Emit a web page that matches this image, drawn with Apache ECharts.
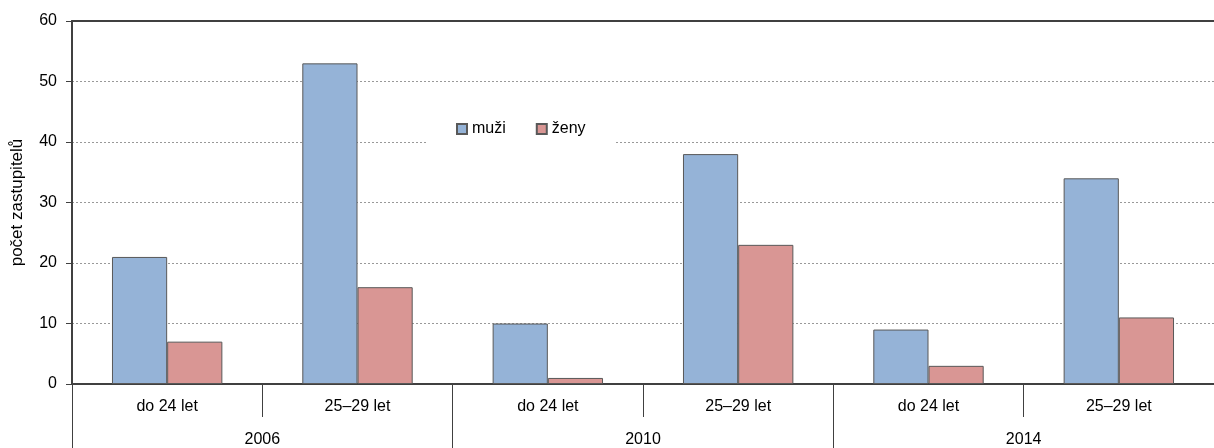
<!DOCTYPE html>
<html>
<head>
<meta charset="utf-8">
<script src="https://cdn.jsdelivr.net/npm/echarts@6/dist/echarts.min.js"></script>
<style>
  html, body { margin: 0; padding: 0; background: #fff; }
  #chart { width: 1214px; height: 448px; }
</style>
</head>
<body>
<div id="chart"></div>
<script>
// kategorie věku a roky voleb
var ageGroups = ['do 24 let', '25–29 let', 'do 24 let', '25–29 let', 'do 24 let', '25–29 let'];
var years = ['2006', '2010', '2014'];
// počty zastupitelů
var muzi = [21, 53, 10, 38, 9, 34];
var zeny = [7, 16, 1, 23, 3, 11];
var yTicks = { min: 0, max: 60, step: 10 };

var axisColor = '#404040';
var font = 'Liberation Sans, Arial, sans-serif';

var chart = echarts.init(document.getElementById('chart'));
chart.setOption({
  animation: false,
  textStyle: { fontFamily: font },
  grid: { left: 72, right: 0, top: 21, bottom: 62, containLabel: false },
  legend: {
    left: 426,
    top: 111,
    padding: [10, 30, 10, 30],
    backgroundColor: '#fff',
    icon: 'rect',
    itemWidth: 10,
    itemHeight: 10,
    itemGap: 30,
    textStyle: { fontSize: 16, color: '#000', fontFamily: font },
    data: ['muži', 'ženy']
  },
  xAxis: [
    {
      type: 'category',
      data: ageGroups,
      position: 'bottom',
      axisLine: { show: true, lineStyle: { color: axisColor, width: 2 } },
      axisTick: { show: true, interval: 0, length: 33, lineStyle: { color: axisColor, width: 1 } },
      axisLabel: { interval: 0, margin: 15, fontSize: 16, color: '#000', fontFamily: font },
      splitLine: { show: false }
    },
    {
      type: 'category',
      data: years,
      position: 'bottom',
      axisLine: { show: false },
      axisTick: { show: true, interval: 0, length: 64, lineStyle: { color: axisColor, width: 1 } },
      axisLabel: { interval: 0, margin: 48, fontSize: 16, color: '#000', fontFamily: font },
      splitLine: { show: false }
    },
    {
      type: 'category',
      data: ageGroups,
      position: 'top',
      axisLine: { show: true, lineStyle: { color: axisColor, width: 2 } },
      axisTick: { show: false },
      axisLabel: { show: false },
      splitLine: { show: false }
    }
  ],
  yAxis: {
    type: 'value',
    min: yTicks.min,
    max: yTicks.max,
    interval: yTicks.step,
    name: 'počet zastupitelů',
    nameLocation: 'middle',
    nameGap: 46,
    nameTextStyle: { fontSize: 17, color: '#000', fontFamily: font },
    axisLine: { show: true, lineStyle: { color: axisColor, width: 2 } },
    axisTick: { show: true, length: 6, lineStyle: { color: axisColor, width: 1 } },
    axisLabel: { fontSize: 16, color: '#000', margin: 15, fontFamily: font },
    splitLine: { show: true, lineStyle: { color: '#999', type: [2, 2], width: 1 } }
  },
  series: [
    {
      name: 'muži',
      type: 'bar',
      xAxisIndex: 0,
      data: muzi,
      barGap: 0,
      barCategoryGap: '42%',
      itemStyle: { color: '#95b3d7', borderColor: '#595959', borderWidth: 1 }
    },
    {
      name: 'ženy',
      type: 'bar',
      xAxisIndex: 0,
      data: zeny,
      barGap: 0,
      barCategoryGap: '42%',
      itemStyle: { color: '#d99694', borderColor: '#595959', borderWidth: 1 }
    }
  ]
});
</script>
</body>
</html>
